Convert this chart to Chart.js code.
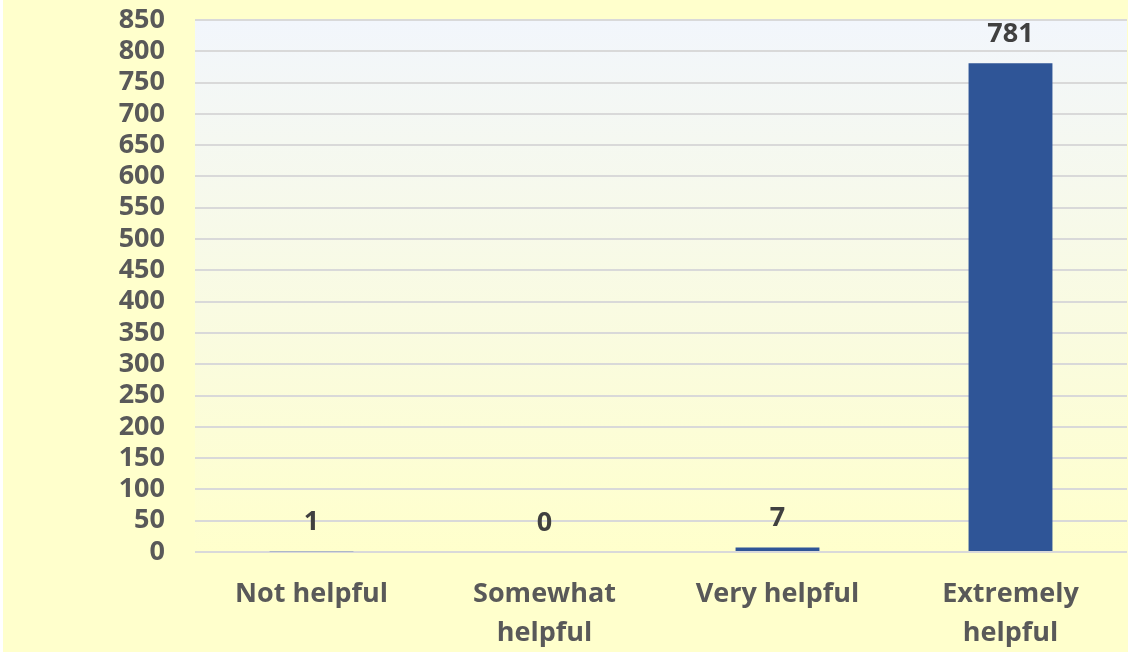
<!DOCTYPE html>
<html>
<head>
<meta charset="utf-8">
<script src="https://cdn.jsdelivr.net/npm/chart.js@4"></script>
<style>
  html, body { margin: 0; padding: 0; background: #ffffff; }
  #wrap { width: 1128px; height: 655px; }
</style>
</head>
<body>
<div id="wrap"><canvas id="c" width="1128" height="655"></canvas></div>
<script>
const categories = [["Not helpful"], ["Somewhat", "helpful"], ["Very helpful"], ["Extremely", "helpful"]];
const responses = [1, 0, 7, 781];
const yMin = 0, yMax = 850, yStep = 50;

const bgPlugin = {
  id: 'bgPlugin',
  beforeDraw(chart) {
    const ctx = chart.ctx;
    const a = chart.chartArea;
    ctx.save();
    ctx.fillStyle = '#FFFFCC';
    ctx.fillRect(3, 0, chart.width - 3, chart.height - 3);
    const g = ctx.createLinearGradient(0, a.top, 0, a.bottom);
    g.addColorStop(0, '#F2F6FC');
    g.addColorStop(1, '#FFFFCC');
    ctx.fillStyle = g;
    ctx.fillRect(a.left, a.top, a.right - a.left, a.bottom - a.top);
    ctx.restore();
  }
};

const labelPlugin = {
  id: 'labelPlugin',
  afterDatasetsDraw(chart) {
    const ctx = chart.ctx;
    const meta = chart.getDatasetMeta(0);
    ctx.save();
    ctx.font = 'bold 27px "Open Sans"';
    ctx.fillStyle = '#404040';
    ctx.textAlign = 'center';
    ctx.textBaseline = 'middle';
    meta.data.forEach((bar, i) => {
      ctx.fillText(String(chart.data.datasets[0].data[i]), bar.x, bar.y - 29);
    });
    ctx.restore();
  }
};

new Chart(document.getElementById('c'), {
  type: 'bar',
  data: {
    labels: categories,
    datasets: [{
      data: responses,
      backgroundColor: '#2F5597',
      borderWidth: 0,
      barPercentage: 0.72,
      categoryPercentage: 0.5
    }]
  },
  options: {
    responsive: false,
    animation: false,
    devicePixelRatio: 1,
    layout: { padding: { top: 3, right: 1, bottom: 3, left: 0 } },
    plugins: { legend: { display: false }, tooltip: { enabled: false } },
    scales: {
      x: {
        grid: { display: false, drawTicks: false },
        border: { display: false },
        ticks: {
          color: '#595959',
          font: { family: '"Open Sans"', size: 27, weight: 'bold', lineHeight: 1.45 },
          padding: 23,
          maxRotation: 0,
          autoSkip: false
        },
        afterFit(scale) { scale.height = 100; }
      },
      y: {
        min: yMin, max: yMax,
        grid: { color: '#D9D9D9', lineWidth: 2, drawTicks: true, tickLength: 30, tickColor: 'rgba(0,0,0,0)' },
        border: { display: false },
        ticks: {
          stepSize: yStep,
          autoSkip: false,
          color: '#595959',
          font: { family: '"Open Sans"', size: 27, weight: 'bold', lineHeight: 1.48 },
          padding: 0
        },
        afterFit(scale) { scale.width = 195; }
      }
    }
  },
  plugins: [bgPlugin, labelPlugin]
});
</script>
</body>
</html>
